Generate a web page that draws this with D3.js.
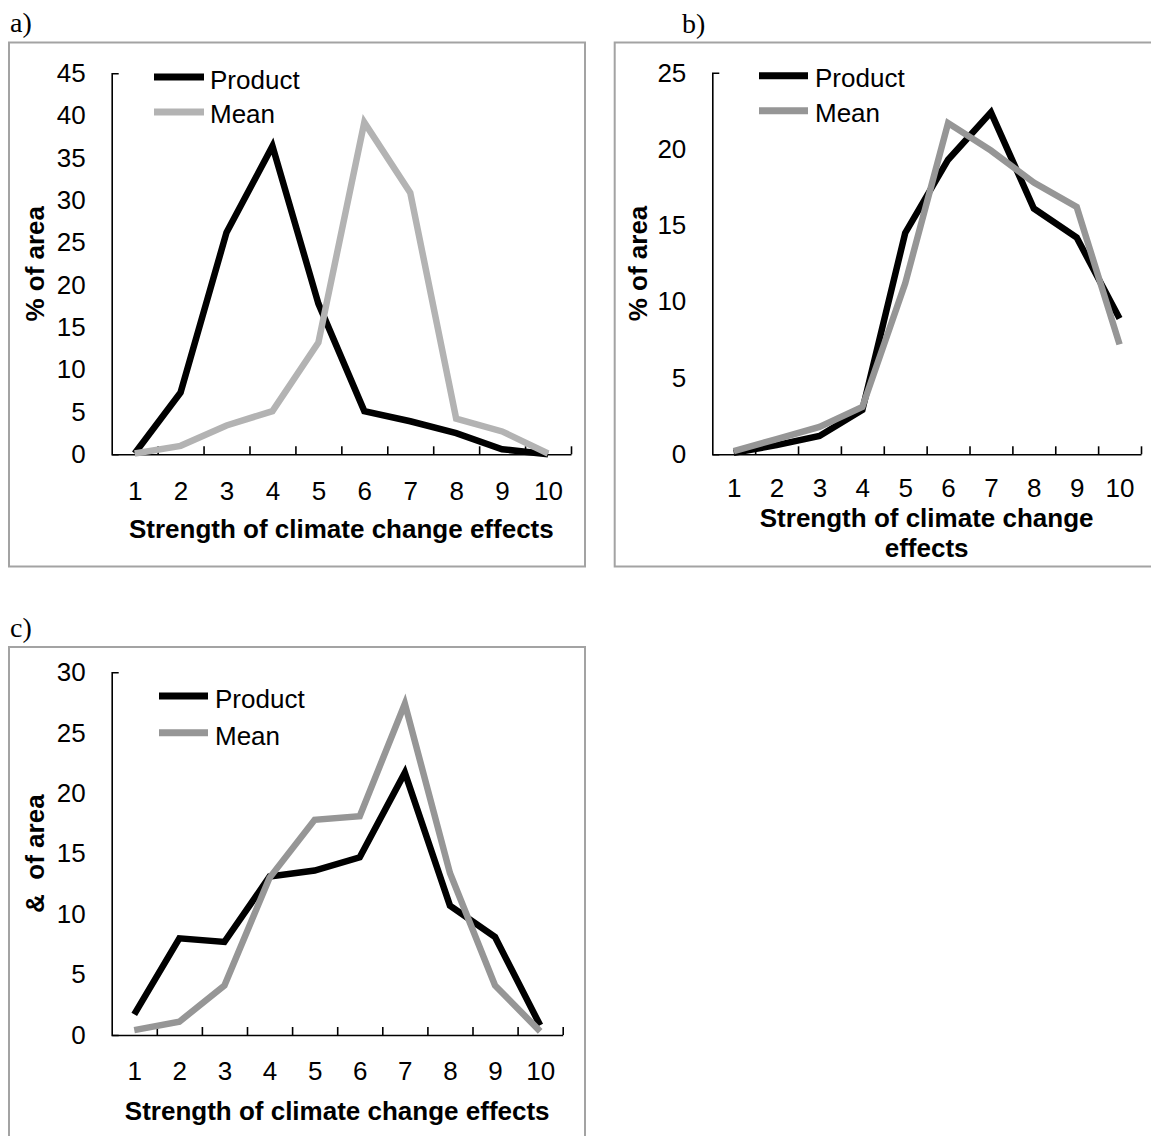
<!DOCTYPE html>
<html>
<head>
<meta charset="utf-8">
<script src="https://cdn.jsdelivr.net/npm/d3@7"></script>
<style>
  html, body { margin: 0; padding: 0; background: #fff; }
  svg { display: block; }
  text { font-family: "Liberation Sans", Arial, sans-serif; }
</style>
</head>
<body>
<div id="chart"></div>
<script>
// ---------- DATA ----------
const categories = [1, 2, 3, 4, 5, 6, 7, 8, 9, 10];

const productA = [0.1, 7.3, 26.2, 36.4, 17.8, 5.1, 3.9, 2.5, 0.6, 0.0];
const meanA    = [0.1, 1.0, 3.4, 5.1, 13.2, 39.2, 30.9, 4.2, 2.7, 0.1];

const productB = [0.1, 0.6, 1.2, 2.9, 14.5, 19.3, 22.4, 16.1, 14.2, 8.9];
const meanB    = [0.2, 1.0, 1.8, 3.1, 11.2, 21.7, 19.9, 17.8, 16.2, 7.2];

const productC = [1.7, 8.0, 7.7, 13.1, 13.6, 14.7, 21.7, 10.7, 8.1, 0.8];
const meanC    = [0.4, 1.1, 4.1, 13.0, 17.8, 18.1, 27.4, 13.4, 4.1, 0.3];

const yTicksA = [0, 5, 10, 15, 20, 25, 30, 35, 40, 45];
const yTicksB = [0, 5, 10, 15, 20, 25];
const yTicksC = [0, 5, 10, 15, 20, 25, 30];

const seriesNames = ["Product", "Mean"];
const panelLabels = ["a)", "b)", "c)"];
const yTitles = ["% of area", "% of area", "&\u00a0 of area"];
const xTitleOneLine = ["Strength of climate change effects"];
const xTitleTwoLines = ["Strength of climate change", "effects"];

// ---------- LAYOUT ----------
const W = 1151, H = 1136;
const svg = d3.select("#chart").append("svg").attr("width", W).attr("height", H);

const panels = [
  { label: panelLabels[0], lx: 10, ly: 32, box: [9, 42.5, 576, 524],
    x0: 111.7, x1: 571, yTop: 73.3, yBot: 454.3, yTicks: yTicksA,
    product: productA, mean: meanA, meanColor: "#b3b3b3", xPad: 27,
    yTitle: yTitles[0], yTitleX: 43.5,
    xTitle: xTitleOneLine, xTitleY: [538],
    leg: { x1: 154, x2: 204, y: [77, 112], tx: 210, ty: [89.3, 123.3] } },
  { label: panelLabels[1], lx: 682, ly: 33, box: [614.7, 42.5, 560, 524],
    x0: 712.3, x1: 1141, yTop: 72.7, yBot: 454.3, yTicks: yTicksB,
    product: productB, mean: meanB, meanColor: "#969696", xPad: 24,
    yTitle: yTitles[1], yTitleX: 647,
    xTitle: xTitleTwoLines, xTitleY: [527, 557],
    leg: { x1: 759, x2: 808, y: [75.7, 110.7], tx: 815, ty: [86.7, 121.7] } },
  { label: panelLabels[2], lx: 10, ly: 637, box: [9, 647, 576, 520],
    x0: 111.7, x1: 562.7, yTop: 672.3, yBot: 1035, yTicks: yTicksC,
    product: productC, mean: meanC, meanColor: "#969696", xPad: 27,
    yTitle: yTitles[2], yTitleX: 43.5,
    xTitle: xTitleOneLine, xTitleY: [1119.5],
    leg: { x1: 159, x2: 208, y: [696, 732.7], tx: 215, ty: [708, 745] } }
];

const FS = 26;
const LW = 6.5;

panels.forEach(p => {
  const g = svg.append("g");

  // panel letter
  g.append("text").attr("x", p.lx).attr("y", p.ly)
    .style("font-family", '"Liberation Serif", "Times New Roman", serif')
    .style("font-size", "28px").text(p.label);

  // frame
  g.append("rect").attr("x", p.box[0]).attr("y", p.box[1])
    .attr("width", p.box[2]).attr("height", p.box[3])
    .attr("fill", "none").attr("stroke", "#a3a3a3").attr("stroke-width", 2);

  const x = d3.scaleLinear().domain([0.5, 10.5]).range([p.x0, p.x1]);
  const y = d3.scaleLinear().domain([0, d3.max(p.yTicks)]).range([p.yBot, p.yTop]);

  // y axis
  const ya = g.append("g").attr("transform", `translate(${p.x0},0)`)
    .call(d3.axisLeft(y).tickValues(p.yTicks).tickSizeInner(0).tickSizeOuter(-7).tickPadding(26));
  ya.select(".domain").attr("stroke", "#000").attr("stroke-width", 1.6);
  ya.selectAll("text").style("font-size", FS + "px").attr("fill", "#000");

  // x axis: boundary ticks (inward)
  const bounds = d3.range(1.5, 11, 1);
  const xb = g.append("g").attr("transform", `translate(0,${p.yBot})`)
    .call(d3.axisBottom(x).tickValues(bounds).tickSizeInner(-8).tickSizeOuter(0).tickFormat(""));
  xb.select(".domain").attr("stroke", "#000").attr("stroke-width", 1.6);
  xb.selectAll(".tick line").attr("stroke", "#000").attr("stroke-width", 1.6);

  // x axis labels
  const xl = g.append("g").attr("transform", `translate(0,${p.yBot})`)
    .call(d3.axisBottom(x).tickValues(categories).tickSize(0).tickPadding(p.xPad));
  xl.select(".domain").remove();
  xl.selectAll("text").style("font-size", FS + "px").attr("fill", "#000");

  // axis titles
  g.append("text")
    .attr("transform", `translate(${p.yTitleX},${(p.yTop + p.yBot) / 2}) rotate(-90)`)
    .attr("text-anchor", "middle").style("font-size", FS + "px").style("font-weight", "bold")
    .style("white-space", "pre")
    .text(p.yTitle);

  p.xTitle.forEach((t, i) => {
    g.append("text").attr("x", (p.x0 + p.x1) / 2).attr("y", p.xTitleY[i])
      .attr("text-anchor", "middle").style("font-size", FS + "px").style("font-weight", "bold")
      .text(t);
  });

  // lines
  const line = d3.line().x((d, i) => x(categories[i])).y(d => y(d));
  g.append("path").datum(p.product).attr("d", line)
    .attr("fill", "none").attr("stroke", "#000").attr("stroke-width", LW)
    .attr("stroke-linejoin", "miter");
  g.append("path").datum(p.mean).attr("d", line)
    .attr("fill", "none").attr("stroke", p.meanColor).attr("stroke-width", LW)
    .attr("stroke-linejoin", "miter");

  // legend
  const colors = ["#000", p.meanColor];
  seriesNames.forEach((name, i) => {
    g.append("line").attr("x1", p.leg.x1).attr("x2", p.leg.x2)
      .attr("y1", p.leg.y[i]).attr("y2", p.leg.y[i])
      .attr("stroke", colors[i]).attr("stroke-width", 7);
    g.append("text").attr("x", p.leg.tx).attr("y", p.leg.ty[i])
      .style("font-size", FS + "px").text(name);
  });
});
</script>
</body>
</html>
